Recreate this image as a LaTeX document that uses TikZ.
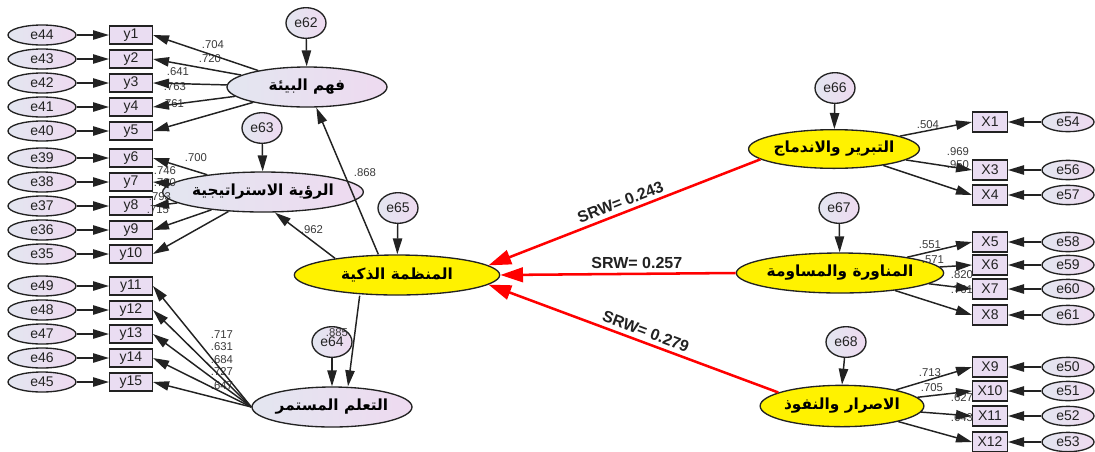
\documentclass[tikz,border=0pt]{standalone}
\usepackage{fontspec}
\setmainfont{Liberation Sans}
\newfontfamily\arabicfont[Script=Arabic]{DejaVu Sans}
\TeXXeTstate=1
\usetikzlibrary{shapes.geometric,arrows.meta}

\definecolor{shadeL}{HTML}{E3E6F0}
\definecolor{shadeR}{HTML}{EEDAF0}
\definecolor{boxfill}{HTML}{EADDF2}
\definecolor{inkgray}{HTML}{222222}
\definecolor{lblgray}{HTML}{3A3A3A}

\tikzset{
  err/.style={ellipse, draw=inkgray, line width=1pt, left color=shadeL, right color=shadeR,
    minimum width=51pt, minimum height=15pt, inner sep=0pt, text=inkgray,
    font=\fontsize{10.5}{12}\selectfont},
  errsm/.style={err, minimum width=39pt, minimum height=14.5pt},
  res/.style={err, minimum width=30pt, minimum height=23pt},
  obs/.style={rectangle, draw=inkgray, line width=1pt, fill=boxfill, minimum width=32pt,
    minimum height=13.5pt, inner sep=0pt, text=inkgray, font=\fontsize{10.5}{12}\selectfont},
  obssm/.style={obs, minimum width=26pt, minimum height=15pt},
  latbase/.style={ellipse, draw=inkgray, line width=1pt, minimum width=120pt,
    minimum height=30pt, inner sep=0pt, text=black,
    font=\arabicfont\bfseries\fontsize{11.5}{13}\selectfont},
  lat/.style={latbase, left color=shadeL, right color=shadeR},
  latyel/.style={latbase, fill=yellow, minimum width=119pt, minimum height=29pt},
  arr/.style={-{Triangle[length=12pt,width=7pt]}, line width=1.1pt, draw=inkgray},
  redarr/.style={-{Triangle[length=17pt,width=11pt]}, line width=1.9pt, draw=red},
  lbl/.style={inner sep=0pt, text=lblgray, font=\fontsize{8.5}{10}\selectfont},
  srw/.style={inner sep=3pt, text=inkgray, font=\bfseries\fontsize{12}{14}\selectfont}
}

\begin{document}
\begin{tikzpicture}[x=0.75pt,y=-0.75pt]
  \useasboundingbox (0,0) rectangle (1095,451);
  % 潜在変数
  \node[lat] (fahm) at (307,87) {\beginR فهم البيئة\endR};
  \node[lat] (ruya) at (263,192) {\beginR الرؤية الاستراتيجية\endR};
  \node[latyel, minimum width=154pt, minimum height=30pt] (munazzama) at (397,275) {\beginR المنظمة الذكية\endR};
  \node[lat] (taallum) at (332,407) {\beginR التعلم المستمر\endR};
  \node[latyel] (tabrir) at (834,149) {\beginR التبرير والاندماج\endR};
  \node[latyel, minimum width=120pt, minimum height=30pt] (munawara) at (840,273) {\beginR المناورة والمساومة\endR};
  \node[latyel, minimum width=120pt, minimum height=31pt] (israr) at (842,406) {\beginR الاصرار والنفوذ\endR};
  % 残差
  \node[res] (e62) at (306,23) {e62};
  \node[res] (e63) at (262,128) {e63};
  \node[res] (e65) at (398,208) {e65};
  \node[res] (e64) at (332,342) {e64};
  \node[res] (e66) at (835,88) {e66};
  \node[res] (e67) at (839,208) {e67};
  \node[res] (e68) at (846,342) {e68};
  % 左側の観測変数
  \foreach \i/\e/\yy in {1/44/35, 2/43/59, 3/42/83, 4/41/107, 5/40/131,
      6/39/158, 7/38/182, 8/37/206, 9/36/230, 10/35/254,
      11/49/286, 12/48/310, 13/47/334, 14/46/358, 15/45/382} {
    \node[err] (e\e) at (42,\yy) {e\e};
    \node[obs] (y\i) at (131,\yy) {y\i};
    \draw[arr] (e\e) -- (y\i);
  }
  % 右側の観測変数
  \foreach \i/\e/\yy in {1/54/122, 3/56/170, 4/57/195, 5/58/242, 6/59/265, 7/60/289,
      8/61/315, 9/50/367, 10/51/391, 11/52/416, 12/53/442} {
    \node[obssm] (X\i) at (990,\yy) {X\i};
    \node[errsm] (e\e) at (1068,\yy) {e\e};
    \draw[arr] (e\e) -- (X\i);
  }
  % 負荷量
  \foreach \lab/\xx/\yy [count=\n] in {.704/213/45, .720/210/59, .641/178/72, .763/175/87, .761/173/104,
      .700/196/158, .746/165/171, .730/165/183, .793/160/197, .715/158/210,
      .717/222/335, .631/222/347, .684/222/360, .727/222/372, .647/222/386,
      .868/365/173, .962/312/230, .885/337/333,
      .504/928/125, .969/958/152, .950/958/165,
      .551/930/245, .571/933/260, .820/962/275, .761/962/290,
      .713/930/373, .705/932/388, .627/962/398, .643/962/418}
    \node[lbl] (l\n) at (\xx,\yy) {\lab};
  \foreach \i in {1,...,5} \draw[arr] (fahm) -- (y\i.east);
  \foreach \i in {6,...,10} \draw[arr] (ruya) -- (y\i.east);
  \foreach \i in {11,...,15} \draw[arr] (taallum.west) -- (y\i.east);
  \foreach \i in {1,3,4} \draw[arr] (tabrir) -- (X\i.west);
  \foreach \i in {5,...,8} \draw[arr] (munawara) -- (X\i.west);
  \foreach \i in {9,...,12} \draw[arr] (israr) -- (X\i.west);
  \draw[arr] (e62) -- (fahm);
  \draw[arr] (e63) -- (ruya);
  \draw[arr] (e65) -- (munazzama);
  \draw[arr] (e64) -- (taallum.north);
  \draw[arr] (e66) -- (tabrir);
  \draw[arr] (e67) -- (munawara);
  \draw[arr] (e68) -- (israr.north);
  \draw[arr] ([xshift=-14pt]munazzama.north) -- ([xshift=7pt]fahm.south);
  \draw[arr] (munazzama.165) -- ([xshift=9pt]ruya.south);
  \draw[arr] ([xshift=-28pt]munazzama.south) -- ([xshift=12pt]taallum.north);
  % SRW
  \draw[redarr] (tabrir.188) -- (munazzama.6) node[srw, pos=0.5, sloped, above] (srw1) {SRW= 0.243};
  \draw[redarr] (munawara.west) -- (munazzama.east) node[srw, pos=0.42, above] (srw2) {SRW= 0.257};
  \draw[redarr] (israr.168) -- (munazzama.-6) node[srw, pos=0.47, sloped, above] (srw3) {SRW= 0.279};
\end{tikzpicture}
\end{document}
